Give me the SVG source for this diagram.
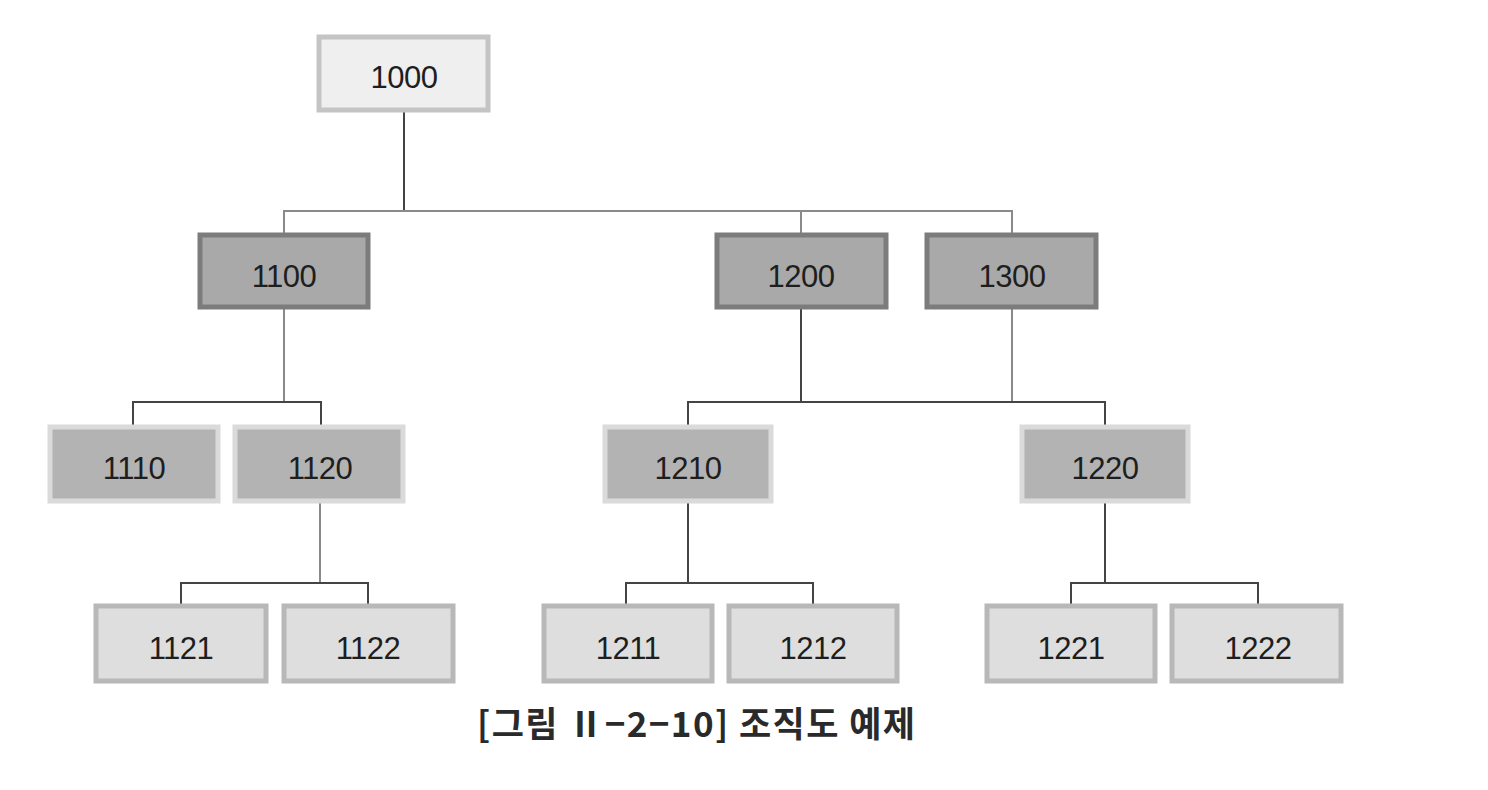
<svg xmlns="http://www.w3.org/2000/svg" width="1488" height="790" viewBox="0 0 1488 790">
<style>
.l0{fill:#efefef;stroke:#c4c4c4;stroke-width:5}
.l1{fill:#a9a9a9;stroke:#7c7c7c;stroke-width:5}
.l2{fill:#b3b3b3;stroke:#dadada;stroke-width:5}
.l3{fill:#dedede;stroke:#b8b8b8;stroke-width:5}
text{font-family:"Liberation Sans","Noto Sans CJK KR",sans-serif;font-size:31px;fill:#1e1e1e;text-anchor:middle;letter-spacing:-0.5px}
.cap{font-family:"Noto Sans CJK KR","Liberation Sans",sans-serif;font-size:35px;font-weight:bold;fill:#2a2a2a;letter-spacing:0;text-anchor:start}
.c{fill:none;stroke:#444;stroke-width:2}
.cl{fill:none;stroke:#8a8a8a;stroke-width:2}
</style>
<rect width="1488" height="790" fill="#fff"/>
<g id="connectors">
<path class="c" d="M404 112V211"/>
<path class="cl" d="M284 233V211H1012V233M801 211V233"/>
<path class="cl" d="M284 308V402"/>
<path class="c" d="M133 425V402H321V425"/>
<path class="c" d="M801 308V402"/>
<path class="cl" d="M1012 308V402"/>
<path class="c" d="M688 425V402H1105V425"/>
<path class="cl" d="M320 503V583"/>
<path class="c" d="M181 605V583H368V605"/>
<path class="c" d="M688 503V583"/>
<path class="c" d="M626 605V583H813V605"/>
<path class="c" d="M1105 503V583"/>
<path class="c" d="M1071 605V583H1258V605"/>
</g>
<g id="n1000"><rect class="l0" x="319" y="37" width="169" height="73"/><text x="404" y="88">1000</text></g>
<g id="n1100"><rect class="l1" x="200" y="235" width="168" height="72"/><text x="284" y="287">1100</text></g>
<g id="n1200"><rect class="l1" x="717" y="235" width="169" height="72"/><text x="801" y="287">1200</text></g>
<g id="n1300"><rect class="l1" x="927" y="235" width="169" height="72"/><text x="1012" y="287">1300</text></g>
<g id="n1110"><rect class="l2" x="50" y="427" width="168" height="74"/><text x="134" y="479">1110</text></g>
<g id="n1120"><rect class="l2" x="235" y="427" width="168" height="74"/><text x="320" y="479">1120</text></g>
<g id="n1210"><rect class="l2" x="605" y="427" width="166" height="74"/><text x="688" y="479">1210</text></g>
<g id="n1220"><rect class="l2" x="1022" y="427" width="166" height="74"/><text x="1105" y="479">1220</text></g>
<g id="n1121"><rect class="l3" x="96" y="606" width="170" height="75"/><text x="181" y="659">1121</text></g>
<g id="n1122"><rect class="l3" x="284" y="606" width="169" height="75"/><text x="368" y="659">1122</text></g>
<g id="n1211"><rect class="l3" x="544" y="606" width="168" height="75"/><text x="628" y="659">1211</text></g>
<g id="n1212"><rect class="l3" x="729" y="606" width="168" height="75"/><text x="813" y="659">1212</text></g>
<g id="n1221"><rect class="l3" x="987" y="606" width="168" height="75"/><text x="1071" y="659">1221</text></g>
<g id="n1222"><rect class="l3" x="1172" y="606" width="169" height="75"/><text x="1258" y="659">1222</text></g>
<text class="cap" x="477" y="737" textLength="438" lengthAdjust="spacing">[그림 Ⅱ−2−10] 조직도 예제</text>
</svg>
